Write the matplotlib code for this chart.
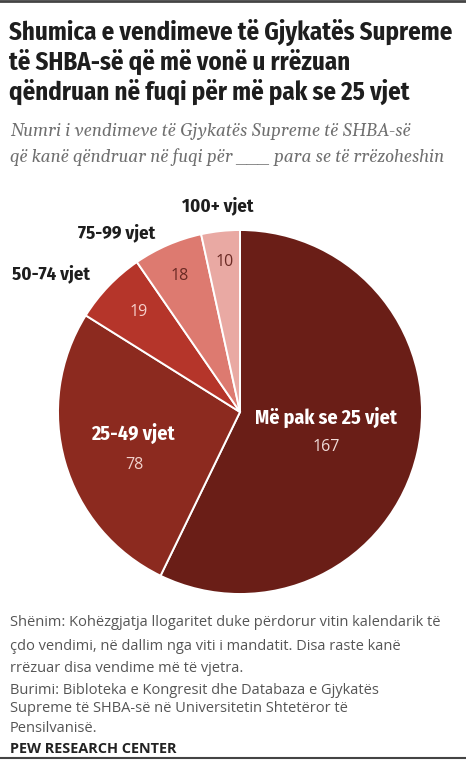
import matplotlib
matplotlib.use("Agg")
import matplotlib.pyplot as plt
from matplotlib import font_manager

W, H = 466, 761

labels = ["Më pak se 25 vjet", "25-49 vjet", "50-74 vjet", "75-99 vjet", "100+ vjet"]
counts = [167, 78, 19, 18, 10]
colors = ["#6A1E17", "#8C2A1F", "#B5352A", "#DD7A70", "#E9A9A3"]

TITLE = ["Shumica e vendimeve të Gjykatës Supreme",
         "të SHBA-së që më vonë u rrëzuan",
         "qëndruan në fuqi për më pak se 25 vjet"]
SUBTITLE = ["Numri i vendimeve të Gjykatës Supreme të SHBA-së",
            "që kanë qëndruar në fuqi për ___ para se të rrëzoheshin"]
NOTE = ["Shënim: Kohëzgjatja llogaritet duke përdorur vitin kalendarik të",
        "çdo vendimi, në dallim nga viti i mandatit. Disa raste kanë",
        "rrëzuar disa vendime më të vjetra."]
SOURCE = ["Burimi: Bibloteka e Kongresit dhe Databaza e Gjykatës",
          "Supreme të SHBA-së në Universitetin Shtetëror të",
          "Pensilvanisë."]


def with_weight(cands, weight):
    # first family that ships a static face of the wanted weight
    for name in cands:
        for f in font_manager.fontManager.ttflist:
            w = f.weight
            w = {"normal": 400, "regular": 400, "bold": 700}.get(w, w) if isinstance(w, str) else w
            if f.name == name and w == weight and f.style == "normal":
                return name
    return "DejaVu Sans"


NARROW = with_weight(["Fira Sans Condensed", "Roboto Condensed",
                      "IBM Plex Sans Condensed", "Barlow Condensed"], 700)
SERIF = ["Gelasio", "Liberation Serif", "DejaVu Serif"]
SANS = ["Open Sans", "DejaVu Sans"]


def px(x, y):
    return x / W, 1 - y / H


fig = plt.figure(figsize=(W / 100, H / 100), dpi=100)
fig.patch.set_facecolor("white")
renderer = fig.canvas.get_renderer()


def fit(t, width):
    # scale the font so the text spans the measured width (px)
    w = t.get_window_extent(renderer).width
    t.set_fontsize(t.get_fontsize() * width / w)
    return t.get_fontsize()


# pie, centre (240, 412), radius 182 px
cx, cy, r = 240, 412, 182
ax = fig.add_axes([(cx - r) / W, 1 - (cy + r) / H, 2 * r / W, 2 * r / H])
ax.pie(counts, colors=colors, startangle=90, counterclock=False,
       wedgeprops={"edgecolor": "white", "linewidth": 1.4})
ax.set_xlim(-1, 1)
ax.set_ylim(-1, 1)
ax.axis("off")

# title
t = fig.text(*px(9, 32), TITLE[0], family=NARROW, weight="bold",
             fontsize=16, color="#1e1e1e", va="center")
fs = fit(t, 443)
for i, line in enumerate(TITLE[1:], 1):
    fig.text(*px(9, 32 + i * 30), line, family=NARROW, weight="bold",
             fontsize=fs, color="#1e1e1e", va="center")

t = fig.text(*px(10, 157), SUBTITLE[1], family=SERIF, style="italic",
             fontsize=12, color="#6f6f6f", va="center")
fs = fit(t, 435)
fig.text(*px(10, 131), SUBTITLE[0], family=SERIF, style="italic",
         fontsize=fs, color="#6f6f6f", va="center")

# slice labels
t = fig.text(*px(326, 417), labels[0], family=NARROW, weight="bold",
             fontsize=13, color="white", ha="center", va="center")
fs_in = fit(t, 142)
fig.text(*px(133, 433), labels[1], family=NARROW, weight="bold",
         fontsize=fs_in, color="white", ha="center", va="center")

num_fs = 11.5
fig.text(*px(326, 447), str(counts[0]), family=SANS, fontsize=num_fs,
         color="#f1dcd9", ha="center", va="center")
fig.text(*px(134, 465), str(counts[1]), family=SANS, fontsize=num_fs,
         color="#f1d1cc", ha="center", va="center")
fig.text(*px(139, 312), str(counts[2]), family=SANS, fontsize=num_fs,
         color="#f6cfca", ha="center", va="center")
fig.text(*px(180, 276), str(counts[3]), family=SANS, fontsize=num_fs,
         color="#6a2a24", ha="center", va="center")
fig.text(*px(225, 262), str(counts[4]), family=SANS, fontsize=num_fs,
         color="#6a2a24", ha="center", va="center")

t = fig.text(*px(51, 274), labels[2], family=NARROW, weight="bold",
             fontsize=12, color="#1e1e1e", ha="center", va="center")
fs_out = fit(t, 78)
fig.text(*px(117, 233), labels[3], family=NARROW, weight="bold",
         fontsize=fs_out, color="#1e1e1e", ha="center", va="center")
fig.text(*px(218, 206), labels[4], family=NARROW, weight="bold",
         fontsize=fs_out, color="#1e1e1e", ha="center", va="center")

# notes
t = fig.text(*px(10, 623), NOTE[0], family=SANS, fontsize=9.5,
             color="#555555", va="center")
fs = fit(t, 433)
for i, line in enumerate(NOTE[1:], 1):
    fig.text(*px(10, 623 + i * 23), line, family=SANS, fontsize=fs,
             color="#555555", va="center")
for i, line in enumerate(SOURCE):
    fig.text(*px(10, 690 + i * 19), line, family=SANS, fontsize=fs,
             color="#555555", va="center")
t = fig.text(*px(10, 749), "PEW RESEARCH CENTER", family=SANS,
             weight="bold", fontsize=9.5, color="#222222", va="center")
fit(t, 170)

# frame lines top / bottom
fig.add_artist(plt.Line2D([0, 1], [1 - 1 / H, 1 - 1 / H], color="#444444", lw=2))
fig.add_artist(plt.Line2D([0, 1], [3 / H, 3 / H], color="#444444", lw=1.5))

fig.savefig("out.png", dpi=100, facecolor="white")
